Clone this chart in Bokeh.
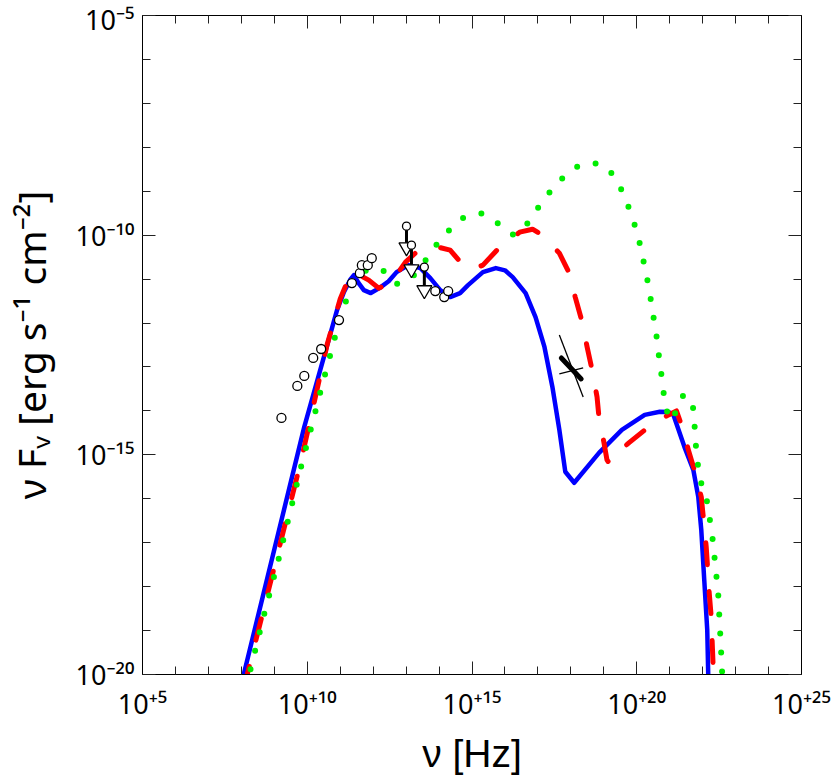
from bokeh.plotting import figure
from bokeh.models import LogAxis, FixedTicker, Range1d
from bokeh.embed import file_html
from bokeh.resources import INLINE

# ---- data (log10 values) ----
blue_lognu = [7.97, 8.072, 9.910, 10.904, 11.114, 11.300, 11.416, 11.56, 11.717, 11.928, 12.20, 12.470,
              12.711, 13.072, 13.434, 13.735, 14.036, 14.337, 14.639, 14.880, 15.331, 15.723, 16.0,
              16.235, 16.627, 16.928, 17.199, 17.440, 17.651, 17.831, 18.102, 18.855, 19.548, 20.241,
              20.70, 20.964, 21.114, 21.446, 21.717, 21.867, 21.958, 22.048, 22.139, 22.169, 22.18]
blue_logf = [-20.3, -20.0, -14.364, -11.705, -11.295, -11.02, -10.909, -11.09, -11.25, -11.318, -11.20, -11.05,
             -10.841, -10.682, -10.75, -10.977, -11.25, -11.409, -11.318, -11.136, -10.841, -10.750, -10.80,
             -10.955, -11.318, -11.864, -12.545, -13.455, -14.432, -15.386, -15.636, -14.955, -14.432, -14.091,
             -14.02, -14.023, -14.091, -14.818, -15.341, -15.955, -16.705, -17.841, -18.977, -20.0, -20.3]

red_lognu = [8.08, 8.193, 9.819, 10.6, 11.0, 11.25, 11.416, 11.867, 12.169, 12.53, 12.982, 13.313, 13.524,
             13.976, 14.337, 14.729, 15.03, 15.331, 15.843, 16.446, 16.837, 17.139, 17.651, 17.952, 18.133,
             18.343, 18.494, 18.645, 18.795, 18.855, 19.006, 19.096, 19.157, 19.247, 19.759, 20.361, 20.964,
             21.205, 21.355, 21.566, 21.747, 21.958, 22.108, 22.199, 22.259, 22.319, 22.33]
red_logf = [-20.3, -19.955, -15.114, -12.5, -11.45, -11.0, -10.84, -11.023, -11.205, -11.09, -10.614, -10.386,
            -10.318, -10.273, -10.341, -10.682, -10.773, -10.682, -10.273, -9.932, -9.864, -10.0, -10.409,
            -10.864, -11.409, -11.977, -12.545, -13.068, -13.682, -14.159, -14.727, -15.114, -15.18, -15.068,
            -14.727, -14.364, -14.091, -14.0, -14.318, -14.886, -15.341, -15.955, -17.091, -18.136, -18.682,
            -19.818, -20.3]

green_lognu = [8.15, 8.253, 8.675, 9.127, 9.548, 9.819, 10.12, 10.422, 10.723, 11.024, 11.235, 11.476, 11.9,
               12.319, 12.711, 13.193, 13.554, 13.886, 14.277, 14.699, 15.271, 15.783, 16.265, 16.687, 17.018,
               17.38, 17.771, 18.253, 18.825, 19.277, 19.578, 19.789, 19.97, 20.12, 20.241, 20.361, 20.452,
               20.542, 20.633, 20.693, 20.783, 20.843, 20.994, 21.175, 21.416, 21.687, 21.747, 21.777, 21.837,
               21.898, 22.108, 22.199, 22.289, 22.349, 22.41, 22.47, 22.5, 22.53, 22.56, 22.59, 22.6]
green_logf = [-20.3, -19.955, -18.682, -17.386, -16.091, -15.25, -14.386, -13.5, -12.659, -11.795, -11.386,
              -10.955, -10.75, -10.818, -11.114, -10.955, -10.614, -10.25, -9.909, -9.614, -9.5, -9.727, -10.0,
              -9.727, -9.364, -9.0, -8.682, -8.409, -8.364, -8.614, -9.023, -9.432, -9.841, -10.273, -10.727,
              -11.159, -11.591, -12.023, -12.455, -12.909, -13.341, -13.795, -14.227, -14.045, -13.636, -13.773,
              -14.205, -14.659, -15.091, -15.523, -15.955, -16.386, -16.818, -17.25, -17.705, -18.136, -18.591,
              -19.023, -19.477, -19.932, -20.3]

obs_lognu = [9.217, 9.699, 9.910, 10.181, 10.422, 10.964, 11.355, 11.596, 11.657, 11.837, 11.958,
             13.886, 14.157, 14.277]
obs_logf = [-14.159, -13.432, -13.205, -12.795, -12.591, -11.932, -11.091, -10.864, -10.682, -10.682, -10.523,
            -11.273, -11.409, -11.273]

ul_lognu = [13.012, 13.163, 13.554]
ul_logf_top = [-9.795, -10.227, -10.727]
ul_logf_arrow = [-10.273, -10.773, -11.25]

bt_thick_lognu = [17.711, 18.313]
bt_thick_logf = [-12.795, -13.273]
bt_a_lognu = [17.651, 18.374]
bt_a_logf = [-12.273, -13.682]
bt_b_lognu = [17.651, 18.374]
bt_b_logf = [-13.159, -13.023]

x_major = [1e5, 1e10, 1e15, 1e20, 1e25]
x_major_labels = ["10⁺⁵", "10⁺¹⁰", "10⁺¹⁵", "10⁺²⁰", "10⁺²⁵"]
x_minor = [10.0 ** k for k in range(5, 26)]
y_major = [1e-20, 1e-15, 1e-10, 1e-5]
y_major_labels = ["10⁻²⁰", "10⁻¹⁵", "10⁻¹⁰", "10⁻⁵"]
y_minor = [10.0 ** -k for k in range(5, 21)]

x_title = "ν [Hz]"
y_title = "ν Fᵥ [erg s⁻¹ cm⁻²]"


def pw(a):
    return [10.0 ** v for v in a]


FONT = "Liberation Sans"
SUPFONT = "Noto Sans"

p = figure(width=831, height=777, x_axis_type="log", y_axis_type="log",
           x_range=Range1d(1e5, 1e25), y_range=Range1d(1e-20, 1e-5),
           output_backend="svg", toolbar_location=None,
           min_border_left=137, min_border_right=30, min_border_top=15, min_border_bottom=102)
p.xgrid.visible = False
p.ygrid.visible = False
p.outline_line_color = "black"
p.outline_line_width = 1
p.background_fill_color = "white"
p.border_fill_color = "white"


def style_axis(ax, ticks, minor, labels, show_labels=True):
    ax.ticker = FixedTicker(ticks=ticks, minor_ticks=minor)
    ax.major_tick_in = 13
    ax.major_tick_out = 0
    ax.minor_tick_in = 8
    ax.minor_tick_out = 0
    ax.major_tick_line_color = "#222222"
    ax.minor_tick_line_color = "#222222"
    ax.axis_line_color = "black"
    if show_labels:
        ax.major_label_overrides = {t: l for t, l in zip(ticks, labels)}
        ax.major_label_text_font = SUPFONT
        ax.major_label_text_font_size = "27px"
        ax.major_label_text_color = "black"
    else:
        ax.major_label_text_font_size = "1px"
        ax.major_label_text_alpha = 0
        ax.major_label_standoff = 0


xa = p.xaxis[0]
style_axis(xa, x_major, x_minor, x_major_labels)
xa.major_label_standoff = 10
xa.axis_label = x_title
xa.axis_label_text_font = FONT
xa.axis_label_text_font_size = "39px"
xa.axis_label_text_font_style = "normal"
xa.axis_label_text_color = "black"
xa.axis_label_standoff = 7

ya = p.yaxis[0]
style_axis(ya, y_major, y_minor, y_major_labels)
ya.major_label_standoff = 8
ya.axis_label = y_title
ya.axis_label_text_font = SUPFONT
ya.axis_label_text_font_size = "39px"
ya.axis_label_text_font_style = "normal"
ya.axis_label_text_color = "black"
ya.axis_label_standoff = 16

top = LogAxis()
style_axis(top, x_major, x_minor, None, show_labels=False)
p.add_layout(top, "above")
right = LogAxis()
style_axis(right, y_major, y_minor, None, show_labels=False)
p.add_layout(right, "right")

# model curves
p.line(pw(blue_lognu), pw(blue_logf), line_color="#0000ff", line_width=4.5, line_join="round")
p.line(pw(red_lognu), pw(red_logf), line_color="#ff0000", line_width=5, line_dash="22 27",
       line_cap="round", line_join="round")
p.line(pw(green_lognu), pw(green_logf), line_color="#00ee00", line_width=6, line_dash="0 19",
       line_cap="round", line_join="round")

# bow tie
p.line(pw(bt_a_lognu), pw(bt_a_logf), line_color="black", line_width=1.3)
p.line(pw(bt_b_lognu), pw(bt_b_logf), line_color="black", line_width=1.3)
p.line(pw(bt_thick_lognu), pw(bt_thick_logf), line_color="black", line_width=5, line_cap="round")

# upper limits
p.segment(pw(ul_lognu), pw(ul_logf_top), pw(ul_lognu), pw(ul_logf_arrow), line_color="black", line_width=3)
p.scatter(pw(ul_lognu), pw(ul_logf_arrow), marker="inverted_triangle", size=15,
          fill_color="white", line_color="black", line_width=1.3)
p.scatter(pw(ul_lognu), pw(ul_logf_top), marker="circle", size=8,
          fill_color="white", line_color="black", line_width=1.3)

# observed points
p.scatter(pw(obs_lognu), pw(obs_logf), marker="circle", size=9,
          fill_color="white", line_color="black", line_width=1.3)

open("out.html", "w").write(file_html(p, INLINE))
